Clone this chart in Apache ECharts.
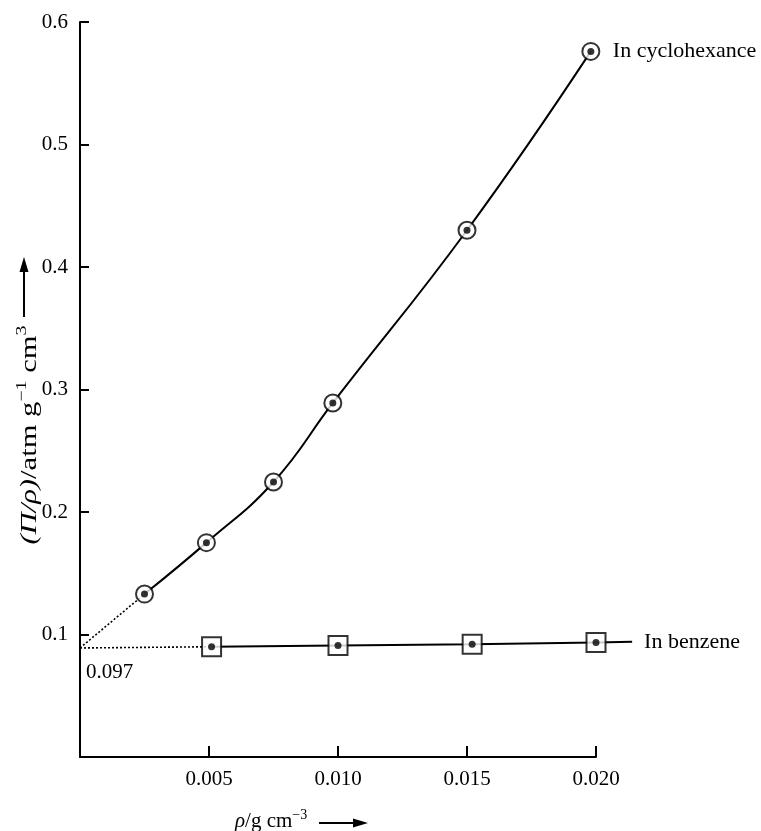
<!DOCTYPE html>
<html><head><meta charset="utf-8">
<script src="https://cdn.jsdelivr.net/npm/echarts@6/dist/echarts.min.js"></script>
<style>html,body{margin:0;padding:0;background:#fff}#c{width:761px;height:831px}</style>
</head><body><div id="c"></div>
<script>
// ---- data ----
const cycloX = [0.0025, 0.0049, 0.0075, 0.0098, 0.0150, 0.0198];
const cycloY = [0.133, 0.175, 0.2245, 0.289, 0.430, 0.576];
const benzX = [0.0051, 0.0100, 0.0152, 0.0200];
const benzY = [0.090, 0.091, 0.092, 0.0935];
const benzTailX = 0.0214;
const benzTailY = 0.094;
const interceptX = 0;
const interceptY = 0.089;
const interceptText = '0.097';
const cycloName = 'In cyclohexance';
const benzName = 'In benzene';
const xMax = 0.020, xStep = 0.005;
const yMax = 0.6, yStep = 0.1;

const FONT = '"Liberation Serif", "DejaVu Serif", serif';
const pairs = (xs, ys) => xs.map((x, i) => [x, ys[i]]);
const cyclo = pairs(cycloX, cycloY);
const benz = pairs(benzX, benzY);

const chart = echarts.init(document.getElementById('c'), null, {renderer: 'canvas'});
const opt = {
  animation: false,
  backgroundColor: '#fff',
  grid: {left: 80, right: 165, top: 22, bottom: 74, containLabel: false},
  xAxis: {
    type: 'value', min: 0, max: xMax, interval: xStep,
    splitLine: {show: false},
    axisLine: {lineStyle: {color: '#000', width: 2}},
    axisTick: {inside: true, length: 11, lineStyle: {color: '#000', width: 2}},
    axisLabel: {margin: 12, color: '#000', fontFamily: FONT, fontSize: 21,
      formatter: v => v === 0 ? '' : v.toFixed(3)}
  },
  yAxis: {
    type: 'value', min: 0, max: yMax, interval: yStep,
    splitLine: {show: false},
    axisLine: {lineStyle: {color: '#000', width: 2}},
    axisTick: {inside: true, length: 9, lineStyle: {color: '#000', width: 2}},
    axisLabel: {margin: 12, color: '#000', fontFamily: FONT, fontSize: 21,
      formatter: v => v === 0 ? '' : v.toFixed(1)}
  },
  series: [
    { type: 'line', data: [[interceptX, interceptY], cyclo[0]], symbol: 'none',
      lineStyle: {color: '#000', width: 1.6, type: [2, 2]}, z: 1 },
    { type: 'line', data: [[interceptX, interceptY], benz[0]], symbol: 'none',
      lineStyle: {color: '#000', width: 1.6, type: [2, 2]}, z: 1 },
    { type: 'line', data: cyclo, smooth: 0.45, symbol: 'none',
      lineStyle: {color: '#000', width: 2}, z: 2,
      endLabel: {show: true, formatter: cycloName, distance: 22, color: '#000',
        fontFamily: FONT, fontSize: 22} },
    { type: 'line', data: benz, symbol: 'none',
      lineStyle: {color: '#000', width: 2}, z: 2 },
    { type: 'scatter', data: cyclo, symbol: 'circle', symbolSize: 17, z: 3, clip: false,
      itemStyle: {color: '#fff', borderColor: '#000', borderWidth: 2} },
    { type: 'scatter', data: benz, symbol: 'rect', symbolSize: 19, z: 3, clip: false,
      itemStyle: {color: '#fff', borderColor: '#000', borderWidth: 2} },
    { type: 'scatter', data: cyclo.concat(benz), symbol: 'circle', symbolSize: 7, z: 4, clip: false,
      itemStyle: {color: '#000'} }
  ]
};
chart.setOption(opt);

const toPx = p => chart.convertToPixel({gridIndex: 0}, p);
const ip = toPx([interceptX, interceptY]);
const bEnd = toPx(benz[benz.length - 1]);
const bTail = toPx([benzTailX, benzTailY]);
chart.setOption({
  graphic: [
    { type: 'text', x: ip[0] + 6, y: ip[1] + 14,
      style: {text: interceptText, fill: '#000', font: '21px ' + FONT, align: 'left', verticalAlign: 'top'} },
    // benzene line tail + label
    { type: 'line', z: 1, shape: {x1: bEnd[0], y1: bEnd[1], x2: bTail[0], y2: bTail[1]},
      style: {stroke: '#000', lineWidth: 2} },
    { type: 'text', x: bTail[0] + 12, y: bTail[1],
      style: {text: benzName, fill: '#000', font: '22px ' + FONT, align: 'left', verticalAlign: 'middle'} },
    // y axis name
    { type: 'text', x: 28, y: 435, rotation: Math.PI / 2, scaleX: 1.33,
      style: {
        text: '{i|(Π/ρ)}{n|/atm g}{s|−1}{n| cm}{s|3}',
        align: 'center', verticalAlign: 'middle', fill: '#000',
        rich: {
          i: {fontFamily: FONT, fontSize: 23, fontStyle: 'italic', lineHeight: 26, verticalAlign: 'bottom'},
          n: {fontFamily: FONT, fontSize: 23, lineHeight: 26, verticalAlign: 'bottom'},
          s: {fontFamily: FONT, fontSize: 15, lineHeight: 26, verticalAlign: 'top'}
        }
      } },
    { type: 'line', shape: {x1: 24, y1: 317, x2: 24, y2: 270}, style: {stroke: '#000', lineWidth: 2} },
    { type: 'polygon', shape: {points: [[24, 257], [19.5, 272], [28.5, 272]]}, style: {fill: '#000'} },
    // x axis name
    { type: 'text', x: 235, y: 820,
      style: {
        text: '{i|ρ}{n|/g cm}{s|−3}',
        align: 'left', verticalAlign: 'middle', fill: '#000',
        rich: {
          i: {fontFamily: FONT, fontSize: 21, fontStyle: 'italic', lineHeight: 24, verticalAlign: 'bottom'},
          n: {fontFamily: FONT, fontSize: 21, lineHeight: 24, verticalAlign: 'bottom'},
          s: {fontFamily: FONT, fontSize: 14, lineHeight: 24, verticalAlign: 'top'}
        }
      } },
    { type: 'line', shape: {x1: 319, y1: 823, x2: 356, y2: 823}, style: {stroke: '#000', lineWidth: 2} },
    { type: 'polygon', shape: {points: [[368, 823], [353, 818.5], [353, 827.5]]}, style: {fill: '#000'} }
  ]
});
</script>
</body></html>
